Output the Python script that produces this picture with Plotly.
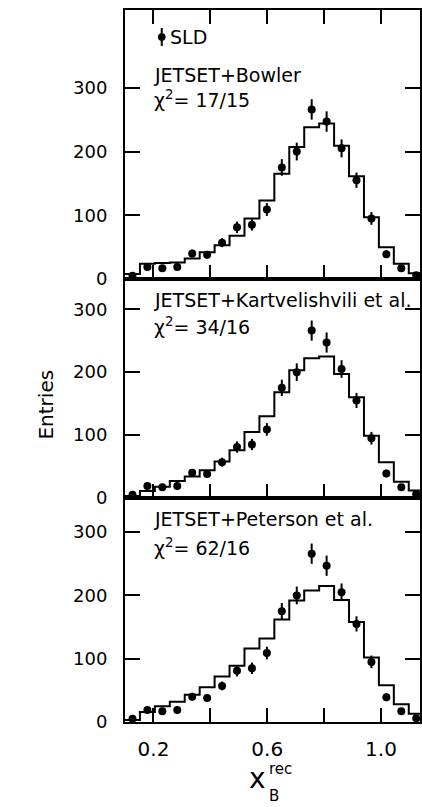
import plotly.graph_objects as go

# ---- data ----
bin_edges = [0.1, 0.1525, 0.205, 0.2575, 0.31, 0.3625, 0.415, 0.4675, 0.52, 0.5725,
             0.625, 0.6775, 0.73, 0.7825, 0.835, 0.8875, 0.94, 0.9925, 1.045, 1.0975, 1.15]
sld = [5, 19, 17, 19, 40, 38, 57, 81, 85, 109, 175, 200, 266, 247, 205, 155, 95, 39, 17, 6]
sld_err = [2, 4, 4, 4, 6, 6, 7, 9, 9, 10, 13, 14, 16, 16, 14, 12, 10, 6, 4, 2]
bowler = [8, 24, 25, 26, 32, 42, 53, 68, 95, 123, 165, 207, 238, 244, 209, 161, 97, 50, 24, 9]
kartvelishvili = [3, 11, 18, 27, 34, 44, 58, 76, 105, 130, 168, 203, 222, 225, 197, 160, 99, 57, 26, 12]
peterson = [3, 16, 25, 32, 43, 55, 72, 89, 116, 132, 162, 192, 208, 215, 193, 158, 102, 58, 28, 13]
model_names = ["JETSET+Bowler", "JETSET+Kartvelishvili et al.", "JETSET+Peterson et al."]
chi2_labels = ["17/15", "34/16", "62/16"]
y_ticks = [0, 100, 200, 300]
x_ticks = [0.2, 0.6, 1.0]
x_ticktext = ["0.2", "0.6", "1.0"]
x_minor_step = 0.2

centers = [(a + b) / 2 for a, b in zip(bin_edges[:-1], bin_edges[1:])]
models = [bowler, kartvelishvili, peterson]

# ---- layout geometry (pixels) ----
W, H = 422, 807
ML, MR, MT, MB = 125, 0, 10, 85
PW, PH = W - ML - MR, H - MT - MB
y_bottom = H - MB  # 722


def px(xp):
    return (xp - ML) / PW


def py(yp):
    return (y_bottom - yp) / PH


FONT = "DejaVu Sans"
domains = [[py(279), 1.0], [py(498), py(279)], [0.0, py(498)]]
yranges = [[0, 422], [0, 348], [0, 354]]

fig = go.Figure()
for i, mc in enumerate(models):
    xa = "x" if i == 0 else f"x{i+1}"
    ya = "y" if i == 0 else f"y{i+1}"
    fig.add_trace(go.Scatter(
        x=bin_edges, y=mc + [mc[-1]], mode="lines",
        line=dict(shape="hv", color="black", width=2),
        xaxis=xa, yaxis=ya, showlegend=False, hoverinfo="skip"))
    fig.add_trace(go.Scatter(
        x=centers, y=sld, mode="markers",
        marker=dict(color="black", size=8, symbol="circle"),
        error_y=dict(type="data", array=sld_err, thickness=2, width=0, color="black"),
        xaxis=xa, yaxis=ya, showlegend=False, cliponaxis=False))

axis_common = dict(showline=True, linewidth=2, linecolor="black", showgrid=False,
                   zeroline=False, ticks="inside", tickwidth=2, tickcolor="black")

layout = dict(
    width=W, height=H,
    margin=dict(l=ML, r=MR, t=MT, b=MB, pad=0),
    paper_bgcolor="white", plot_bgcolor="white",
    font=dict(family=FONT, color="black"),
)
for i in range(3):
    xk = "xaxis" if i == 0 else f"xaxis{i+1}"
    yk = "yaxis" if i == 0 else f"yaxis{i+1}"
    ya = "y" if i == 0 else f"y{i+1}"
    xa = "x" if i == 0 else f"x{i+1}"
    layout[xk] = dict(axis_common, domain=[0, 1], range=[0.1, 1.137], anchor=ya,
                      tickvals=x_ticks, ticktext=x_ticktext, ticklen=14,
                      minor=dict(tick0=0.2, dtick=x_minor_step, ticks="inside", ticklen=14,
                                 tickwidth=2, tickcolor="black", showgrid=False),
                      mirror="ticks" if i == 0 else True,
                      showticklabels=(i == 2),
                      tickfont=dict(family=FONT, size=20),
                      ticklabelstandoff=8)
    if i > 0:
        layout[xk]["matches"] = "x"
    layout[yk] = dict(axis_common, domain=domains[i], range=yranges[i], anchor=xa,
                      tickvals=y_ticks, ticklen=15, mirror="ticks",
                      tickfont=dict(family=FONT, size=18),
                      ticklabelstandoff=12)

ann = []


def add_text(text, xp, yp, size=19, xanchor="left", yanchor="middle", angle=0):
    ann.append(dict(text=text, x=px(xp), y=py(yp), xref="paper", yref="paper",
                    xanchor=xanchor, yanchor=yanchor, showarrow=False, textangle=angle,
                    font=dict(family=FONT, size=size, color="black")))


add_text("SLD", 168, 37)
label_y = [(75, 99), (300, 326), (519, 547)]
for name, chi, (y1, y2) in zip(model_names, chi2_labels, label_y):
    add_text(name, 152, y1)
    add_text("χ<sup>2</sup>= " + chi, 152, y2)
add_text("Entries", 45, 405, size=20, xanchor="center", angle=-90)
add_text("x", 258, 779, size=28, xanchor="center")
add_text("rec", 268, 769, size=15)
add_text("B", 268, 796, size=15)
layout["annotations"] = ann

# legend glyph for SLD
layout["shapes"] = [
    dict(type="line", xref="paper", yref="paper", x0=px(162), x1=px(162), y0=py(28), y1=py(46),
         line=dict(color="black", width=2)),
    dict(type="circle", xref="paper", yref="paper", x0=px(158.5), x1=px(165.5), y0=py(33.5), y1=py(40.5),
         fillcolor="black", line=dict(color="black", width=1)),
]

fig.update_layout(**layout)
fig.write_html("out.html")
